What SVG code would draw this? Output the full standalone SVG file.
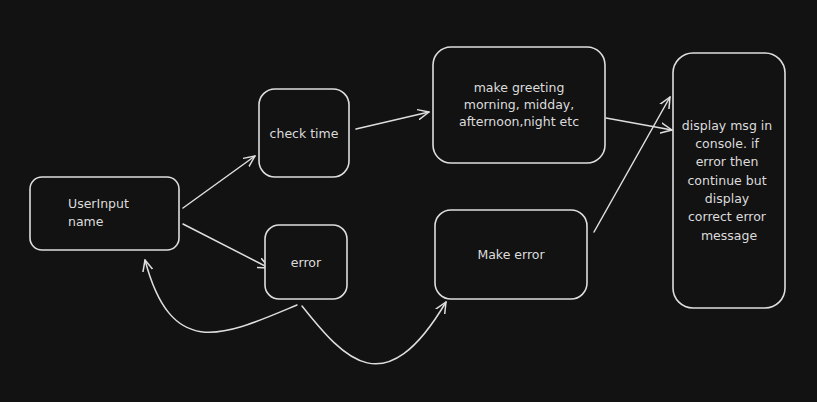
<svg xmlns="http://www.w3.org/2000/svg" width="817" height="402" viewBox="0 0 817 402">
<style>
.n{fill:#121212;stroke:#dedede;stroke-width:1.6}
.t{font-family:"DejaVu Sans","Liberation Sans",sans-serif;font-size:12.5px;fill:#dcdcdc}
.c{stroke:#dedede;stroke-width:1.5;fill:none;stroke-linecap:round}
</style>
<defs>
<marker id="a" viewBox="0 0 12 12" refX="11" refY="6" markerWidth="12" markerHeight="12" markerUnits="userSpaceOnUse" orient="auto">
<path d="M0,1 L11,6 L0,11" fill="none" stroke="#dedede" stroke-width="1.5" stroke-linecap="round" stroke-linejoin="round"/>
</marker>
</defs>
<rect width="817" height="402" fill="#121212"/>
<g id="connectors">
<path class="c" d="M183,208 L255,156" marker-end="url(#a)"/>
<path class="c" d="M183,224 L269,268" marker-end="url(#a)"/>
<path class="c" d="M356,129 L429,112" marker-end="url(#a)"/>
<path class="c" d="M606,118 L672,130" marker-end="url(#a)"/>
<path class="c" d="M594,232 L670,97" marker-end="url(#a)"/>
<path class="c" d="M297,305 C225,335 172,362 145,260" marker-end="url(#a)"/>
<path class="c" d="M302,306 C345,360 385,405 446,302" marker-end="url(#a)"/>
</g>
<g id="userinput">
<rect class="n" x="30" y="177" width="149" height="73" rx="12"/>
<text class="t" x="68" y="208">UserInput</text>
<text class="t" x="68" y="226">name</text>
</g>
<g id="checktime">
<rect class="n" x="259" y="89" width="90" height="88" rx="16"/>
<text class="t" x="304" y="138" text-anchor="middle">check time</text>
</g>
<g id="greeting">
<rect class="n" x="433" y="47" width="172" height="116" rx="18"/>
<text class="t" x="519" y="92" text-anchor="middle">make greeting</text>
<text class="t" x="519" y="109" text-anchor="middle">morning, midday,</text>
<text class="t" x="519" y="126" text-anchor="middle">afternoon,night etc</text>
</g>
<g id="display">
<rect class="n" x="673" y="53" width="112" height="255" rx="20"/>
<text class="t" text-anchor="middle">
<tspan x="729" y="130">display msg in</tspan>
<tspan x="729" y="148">console. if</tspan>
<tspan x="729" y="166">error then</tspan>
<tspan x="729" y="185">continue but</tspan>
<tspan x="729" y="203">display</tspan>
<tspan x="729" y="221">correct error</tspan>
<tspan x="729" y="240">message</tspan>
</text>
</g>
<g id="error">
<rect class="n" x="265" y="225" width="82" height="74" rx="14"/>
<text class="t" x="306" y="267" text-anchor="middle">error</text>
</g>
<g id="makeerror">
<rect class="n" x="435" y="210" width="152" height="89" rx="16"/>
<text class="t" x="511" y="259" text-anchor="middle">Make error</text>
</g>
</svg>
